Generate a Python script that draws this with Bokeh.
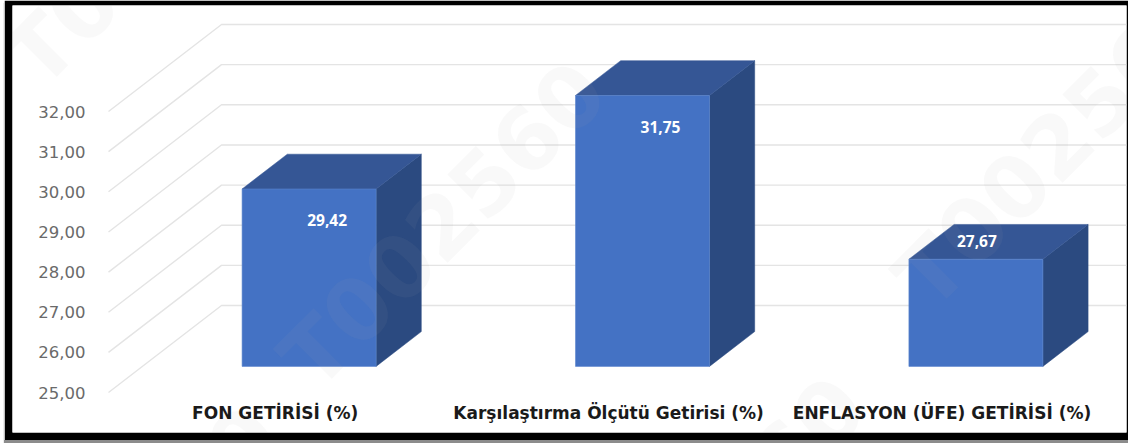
from bokeh.plotting import figure
from bokeh.models import Range1d, FixedTicker, ColumnDataSource
from bokeh.core.properties import value
from bokeh.embed import file_html
from bokeh.resources import INLINE

categories = ["FON GETİRİSİ (%)", "Karşılaştırma Ölçütü Getirisi (%)", "ENFLASYON (ÜFE) GETİRİSİ (%)"]
values = [29.42, 31.75, 27.67]
value_labels = ["29,42", "31,75", "27,67"]
y_ticks = [25, 26, 27, 28, 29, 30, 31, 32]
y_tick_labels = ["25,00", "26,00", "27,00", "28,00", "29,00", "30,00", "31,00", "32,00"]
label_dx = [18, 18, 1]
label_dy = [31, 32, -18.5]
# watermark strings and their baseline start, in reference pixels
wm_text = ["T00", "T002560", "T00256", "T002560", "T0"]
wm_px = [(20, 70), (295, 372), (910, 292), (554, 687), (180, 505)]

CANVAS_W, CANVAS_H = 1124, 440
FRAME_L, FRAME_R, FRAME_T, FRAME_B = 12, 1126, 5, 432
ORIGIN_X, ORIGIN_Y = 108, 392   # pixel of the first category edge and of value 25
PX_CAT, PX_VAL = 333.4, 40.14
DEPTH_X = 113 / PX_CAT
DEPTH_Y = 87 / PX_VAL
BASE = 25

def data_x(px):
    return (px - ORIGIN_X) / PX_CAT

def data_y(py):
    return BASE + (ORIGIN_Y - py) / PX_VAL

p = figure(width=CANVAS_W, height=CANVAS_H, output_backend="svg", toolbar_location=None,
           x_range=Range1d(data_x(FRAME_L), data_x(FRAME_R)),
           y_range=Range1d(data_y(FRAME_B), data_y(FRAME_T)),
           min_border_left=FRAME_L - 4, min_border_right=1128 - FRAME_R,
           min_border_top=FRAME_T, min_border_bottom=CANVAS_H - FRAME_B,
           margin=(0, 0, 0, 4),
           border_fill_color="#000000", background_fill_color="#ffffff",
           styles={"box-shadow": "0 3px 1px #8c8c8c"})
p.outline_line_color = None
p.xgrid.visible = False
p.ygrid.visible = False

# axes, drawn inside the white panel
ya = p.yaxis[0]
ya.ticker = FixedTicker(ticks=y_ticks)
ya.major_label_overrides = {t: s for t, s in zip(y_ticks, y_tick_labels)}
ya.axis_line_color = None
ya.major_tick_line_color = None
ya.minor_tick_line_color = None
ya.major_label_standoff = -79
ya.major_label_text_font = "DejaVu Sans"
ya.major_label_text_font_size = "16.5px"
ya.major_label_text_color = "#6a6a6a"

xa = p.xaxis[0]
xa.ticker = FixedTicker(ticks=[0.5, 1.5, 2.5])
xa.major_label_overrides = {i + 0.5: c for i, c in enumerate(categories)}
xa.axis_line_color = None
xa.major_tick_line_color = None
xa.minor_tick_line_color = None
xa.major_label_standoff = -36
xa.major_label_text_font = "DejaVu Sans"
xa.major_label_text_font_style = "bold"
xa.major_label_text_font_size = "17px"
xa.major_label_text_color = "#1a1a1a"

# gridlines on the side and back walls
x_end = data_x(FRAME_R)
p.multi_line(xs=[[0, DEPTH_X, x_end] for _ in y_ticks],
             ys=[[t, t + DEPTH_Y, t + DEPTH_Y] for t in y_ticks],
             line_color="#e4e4e4", line_width=1.4)

# 3-D bars
D0, D1 = 0.3, 0.7
HALF = 67 / PX_CAT
front_x, front_y, top_x, top_y, side_x, side_y = [], [], [], [], [], []
for i, v in enumerate(values):
    c = i + 0.5
    xl = c - HALF + D0 * DEPTH_X
    xr = c + HALF + D0 * DEPTH_X
    dx = (D1 - D0) * DEPTH_X
    dy = (D1 - D0) * DEPTH_Y
    yb = BASE + D0 * DEPTH_Y
    yt = v + D0 * DEPTH_Y
    front_x.append([xl, xr, xr, xl]); front_y.append([yb, yb, yt, yt])
    top_x.append([xl, xr, xr + dx, xl + dx]); top_y.append([yt, yt, yt + dy, yt + dy])
    side_x.append([xr, xr + dx, xr + dx, xr]); side_y.append([yb, yb + dy, yt + dy, yt])

p.patches(side_x, side_y, fill_color="#2b4a80", line_color="#2b4a80", line_width=0.5)
p.patches(top_x, top_y, fill_color="#355695", line_color="#355695", line_width=0.5)
p.patches(front_x, front_y, fill_color="#4472c4", line_color="#5a84cc", line_width=0.6)

# watermark, over the bars
wm = ColumnDataSource(dict(x=[data_x(a) for a, _ in wm_px],
                           y=[data_y(b) for _, b in wm_px],
                           t=wm_text))
p.text("x", "y", text="t", source=wm, angle=0.7854, text_baseline="alphabetic",
       text_font=value("DejaVu Sans"), text_font_style="bold", text_font_size="86px",
       text_color="#a8a8a8", text_alpha=0.07)

src = ColumnDataSource(dict(
    x=[i + 0.5 + D0 * DEPTH_X for i in range(len(values))],
    y=[v + D0 * DEPTH_Y for v in values],
    t=value_labels,
    xo=label_dx,
    yo=label_dy,
))
p.text("x", "y", text="t", source=src, x_offset="xo", y_offset="yo",
       text_align="center", text_baseline="middle", text_color="#ffffff",
       text_font=value("Open Sans"), text_font_style="bold", text_font_size="15.5px")

open("out.html", "w").write(file_html(p, INLINE))
